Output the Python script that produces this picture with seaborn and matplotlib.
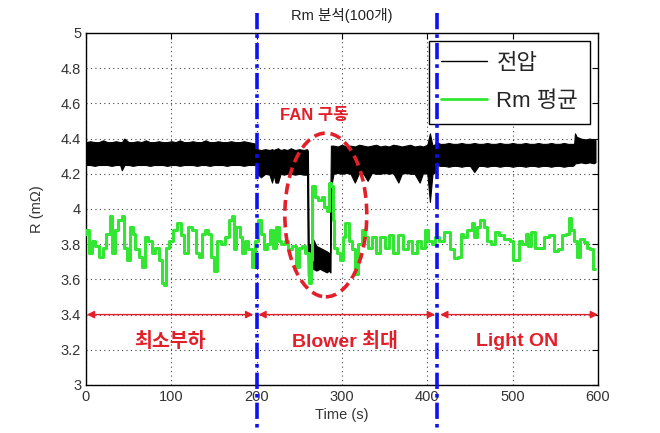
import matplotlib
matplotlib.use("Agg")
import matplotlib.pyplot as plt
from matplotlib.patches import Ellipse
from matplotlib.lines import Line2D
import numpy as np
import pandas as pd
import seaborn as sns

# ---------------- data ----------------
title = "Rm 분석(100개)"
x_label = "Time (s)"
y_label = "R (mΩ)"
legend_labels = ["전압", "Rm 평균"]
x_ticks = [0, 100, 200, 300, 400, 500, 600]
y_ticks = [3, 3.2, 3.4, 3.6, 3.8, 4, 4.2, 4.4, 4.6, 4.8, 5]
y_tick_labels = ["3", "3.2", "3.4", "3.6", "3.8", "4", "4.2", "4.4", "4.6", "4.8", "5"]

# green: Rm moving average
rm_t = [0, 1, 5, 9, 12, 18, 22, 26, 30, 32, 36, 40, 44, 46, 50, 54, 56, 60, 64, 67, 71, 75, 79, 83, 87,
        90.6, 92, 95, 100, 105, 109, 113, 117, 121, 127, 130, 134, 138, 141, 145, 149, 151, 155, 161, 165,
        170, 172, 174, 178, 182, 184, 188, 192, 196, 199, 204, 206, 210, 214, 218, 221, 225, 227, 231, 235,
        239, 243, 249, 251, 255, 259, 262.5, 264, 266, 270, 274, 278, 280, 284, 286, 288, 290, 292, 296, 300,
        302, 306, 310, 314, 317, 321, 325, 329, 333, 337, 343, 347, 353, 357, 363, 369, 375, 379, 385, 391,
        395, 399, 403, 407, 411, 417, 423, 429, 434, 438, 440, 444, 450, 454, 456, 460, 464, 468, 472, 476,
        482, 487, 493, 500, 501, 507, 508, 514, 517, 520, 524, 528, 534, 540, 546, 550, 556, 560, 564, 567,
        570, 573, 577, 581, 585, 589, 593, 595, 597]
rm_v = [3.86, 3.88, 3.75, 3.82, 3.79, 3.73, 3.78, 3.86, 3.96, 3.75, 3.88, 3.94, 3.96, 3.78, 3.71, 3.90, 3.86,
        3.77, 3.73, 3.67, 3.84, 3.82, 3.75, 3.78, 3.71, 3.58, 3.57, 3.78, 3.82, 3.88, 3.92, 3.85, 3.75, 3.90,
        3.88, 3.75, 3.73, 3.86, 3.88, 3.86, 3.73, 3.65, 3.82, 3.80, 3.84, 3.94, 3.96, 3.77, 3.90, 3.84, 3.75,
        3.82, 3.77, 3.67, 3.82, 3.94, 3.86, 3.77, 3.80, 3.88, 3.78, 3.90, 3.82, 3.80, 3.82, 3.77, 3.79, 3.67,
        3.78, 3.79, 3.75, 3.58, 3.71, 4.13, 4.07, 4.05, 4.07, 4.01, 3.99, 4.15, 4.13, 3.94, 3.78, 3.75, 3.71,
        3.84, 3.92, 3.82, 3.77, 3.63, 3.80, 3.88, 3.84, 3.78, 3.84, 3.75, 3.84, 3.78, 3.85, 3.75, 3.85, 3.77,
        3.82, 3.75, 3.82, 3.78, 3.88, 3.82, 3.80, 3.84, 3.82, 3.87, 3.77, 3.72, 3.73, 3.86, 3.84, 3.88, 3.92,
        3.84, 3.90, 3.94, 3.90, 3.82, 3.80, 3.87, 3.85, 3.83, 3.82, 3.71, 3.71, 3.82, 3.80, 3.86, 3.79, 3.87,
        3.78, 3.78, 3.84, 3.85, 3.76, 3.77, 3.85, 3.86, 3.95, 3.88, 3.82, 3.73, 3.83, 3.81, 3.78, 3.77, 3.66,
        3.66]

# black: raw signal, drawn as its upper / lower envelope
volt_t_a = [0, 5, 10, 15, 20, 25, 30, 35, 40, 42, 45, 50, 55, 60, 65, 70, 75, 80, 85, 90, 95, 100, 105, 110,
            115, 120, 125, 130, 135, 140, 145, 150, 155, 160, 165, 170, 175, 180, 185, 190, 195, 199.5]
volt_hi_a = [4.38, 4.385, 4.38, 4.38, 4.39, 4.38, 4.38, 4.385, 4.38, 4.38, 4.40, 4.38, 4.38, 4.385, 4.38, 4.39,
             4.38, 4.38, 4.385, 4.38, 4.38, 4.385, 4.38, 4.39, 4.38, 4.38, 4.385, 4.38, 4.38, 4.39, 4.38, 4.38,
             4.385, 4.38, 4.38, 4.385, 4.38, 4.38, 4.385, 4.38, 4.375, 4.37]
volt_lo_a = [4.25, 4.25, 4.245, 4.25, 4.25, 4.25, 4.245, 4.25, 4.25, 4.22, 4.25, 4.25, 4.245, 4.25, 4.25,
             4.25, 4.245, 4.25, 4.25, 4.25, 4.245, 4.25, 4.25, 4.245, 4.25, 4.25, 4.25, 4.245, 4.25, 4.25,
             4.245, 4.25, 4.25, 4.25, 4.245, 4.25, 4.25, 4.25, 4.245, 4.25, 4.25, 4.25]
volt_t_b = [200.5, 205, 210, 215, 218, 220, 222, 225, 228, 232, 236, 240, 245, 250, 255, 259]
volt_hi_b = [4.34, 4.335, 4.34, 4.335, 4.34, 4.335, 4.34, 4.345, 4.335, 4.34, 4.335, 4.345, 4.335, 4.34,
             4.335, 4.34]
volt_lo_b = [4.20, 4.18, 4.20, 4.195, 4.15, 4.195, 4.15, 4.15, 4.20, 4.195, 4.20, 4.20, 4.195, 4.20, 4.195,
             4.195]
volt_t_c = [260, 261, 263, 266, 270, 274, 278, 282, 285, 286, 286.5, 287]
volt_hi_c = [4.33, 3.80, 3.80, 3.83, 3.79, 3.78, 3.77, 3.76, 3.75, 3.75, 4.15, 4.36]
volt_lo_c = [3.62, 3.62, 3.66, 3.66, 3.65, 3.66, 3.65, 3.64, 3.65, 3.64, 3.64, 4.12]
volt_t_d = [290, 295, 300, 305, 310, 315, 320, 325, 330, 335, 340, 345, 350, 355, 360, 366, 370, 375, 380,
            385, 391, 395, 400, 403, 406, 409.5]
volt_hi_d = [4.36, 4.355, 4.365, 4.355, 4.36, 4.355, 4.365, 4.36, 4.355, 4.36, 4.365, 4.355, 4.36, 4.355,
             4.365, 4.36, 4.355, 4.36, 4.365, 4.355, 4.36, 4.355, 4.365, 4.43, 4.36, 4.37]
volt_lo_d = [4.20, 4.205, 4.20, 4.205, 4.20, 4.15, 4.205, 4.20, 4.16, 4.205, 4.20, 4.20, 4.205, 4.20, 4.205,
             4.15, 4.20, 4.205, 4.20, 4.20, 4.15, 4.205, 4.20, 4.04, 4.20, 4.21]
volt_t_e = [410.5, 415, 420, 425, 430, 435, 440, 445, 450, 455, 460, 465, 470, 475, 480, 485, 490, 495, 500,
            505, 510, 515, 520, 525, 530, 535, 540, 545, 550, 555, 560, 565, 570, 572, 573, 575, 580, 585,
            590, 595, 597]
volt_hi_e = [4.38, 4.37, 4.37, 4.375, 4.37, 4.37, 4.375, 4.37, 4.37, 4.375, 4.37, 4.37, 4.375, 4.37, 4.37,
             4.375, 4.37, 4.37, 4.375, 4.37, 4.37, 4.375, 4.37, 4.37, 4.375, 4.37, 4.37, 4.375, 4.37, 4.37,
             4.375, 4.37, 4.37, 4.37, 4.43, 4.41, 4.40, 4.395, 4.40, 4.395, 4.39]
volt_lo_e = [4.25, 4.245, 4.245, 4.24, 4.245, 4.245, 4.24, 4.245, 4.245, 4.21, 4.245, 4.245, 4.24, 4.245,
             4.245, 4.24, 4.245, 4.245, 4.24, 4.245, 4.245, 4.24, 4.245, 4.245, 4.24, 4.245, 4.245, 4.24,
             4.245, 4.245, 4.24, 4.245, 4.245, 4.25, 4.26, 4.26, 4.265, 4.26, 4.265, 4.26, 4.265]

# phase boundaries and labels
phase_bounds = [200, 411]
arrow_spans = [(1, 196), (202, 409), (415, 600)]
phase_labels = ["최소부하", "Blower 최대", "Light ON"]
phase_label_x = [98, 303, 505]
fan_label = "FAN 구동"

# ---------------- style ----------------
sns.set_style("white")
plt.rcParams["font.family"] = ["Liberation Sans", "Noto Sans CJK KR", "DejaVu Sans"]

RED = "#e3202a"
BLUE = "#1010f0"
GREEN = "#33e633"

fig = plt.figure(figsize=(6.6, 4.33), dpi=100)
ax = fig.add_axes([0.1303, 0.1109, 0.7758, 0.8129])

volt_t = volt_t_a + volt_t_b + volt_t_c + volt_t_d + volt_t_e
volt_hi = volt_hi_a + volt_hi_b + volt_hi_c + volt_hi_d + volt_hi_e
volt_lo = volt_lo_a + volt_lo_b + volt_lo_c + volt_lo_d + volt_lo_e
ax.fill_between(volt_t, volt_lo, volt_hi, color="black", lw=0.8, zorder=2)

df_rm = pd.DataFrame({"t": rm_t, "v": rm_v})
sns.lineplot(data=df_rm, x="t", y="v", ax=ax, color=GREEN, lw=2.2, zorder=3,
             drawstyle="steps-mid")

ax.set_xlim(0, 600)
ax.set_ylim(3, 5)
ax.set_xticks(x_ticks)
ax.set_yticks(y_ticks)
ax.set_yticklabels(y_tick_labels)
ax.grid(True, color="#444444", ls=(0, (1, 3)), lw=0.8)
ax.tick_params(direction="in", top=True, right=True, length=4, width=0.8,
               labelsize=10.5, labelcolor="#333333", color="black")
for s in ax.spines.values():
    s.set_color("black")
    s.set_linewidth(1.0)

ax.set_title(title, fontsize=10.5, pad=9, color="#222222")
ax.set_xlabel(x_label, fontsize=10.5, color="#333333", labelpad=3)
ax.set_ylabel(y_label, fontsize=10.5, color="#333333", labelpad=12)

# blue boundary lines extending beyond the axes
for b in phase_bounds:
    ax.plot([b, b], [1.057, -0.128], transform=ax.get_xaxis_transform(), clip_on=False,
            color=BLUE, lw=2.6, ls=(0, (4.5, 1.4, 1.0, 1.4)), zorder=6)

# red double-headed arrows and phase labels
for (a, b) in arrow_spans:
    ax.annotate("", xy=(b, 3.4), xytext=(a, 3.4),
                arrowprops=dict(arrowstyle="<|-|>", color=RED, lw=1.0, mutation_scale=11,
                                shrinkA=0, shrinkB=0), zorder=5)
for lx, lab in zip(phase_label_x, phase_labels):
    ax.text(lx, 3.245, lab, color=RED, fontsize=14, fontweight="bold", ha="center", va="center")

# FAN region ellipse + label
ax.add_patch(Ellipse((281, 3.966), 96, 0.93, fill=False, ec=RED, lw=2.6, ls=(0, (3, 1.6)), zorder=4))
ax.text(268, 4.53, fan_label, color=RED, fontsize=12, fontweight="bold", ha="center", va="center")

handles = [Line2D([0], [0], color="black", lw=1.0), Line2D([0], [0], color=GREEN, lw=2.0)]
leg = ax.legend(handles, legend_labels, loc="upper right", bbox_to_anchor=(0.985, 0.978),
                fontsize=16, frameon=True, fancybox=False, framealpha=1, edgecolor="black",
                handlelength=2.1, handletextpad=0.4, borderpad=0.55, labelspacing=0.75,
                borderaxespad=0)
leg.get_frame().set_linewidth(1.0)

fig.savefig("out.png", dpi=100, facecolor="white")
